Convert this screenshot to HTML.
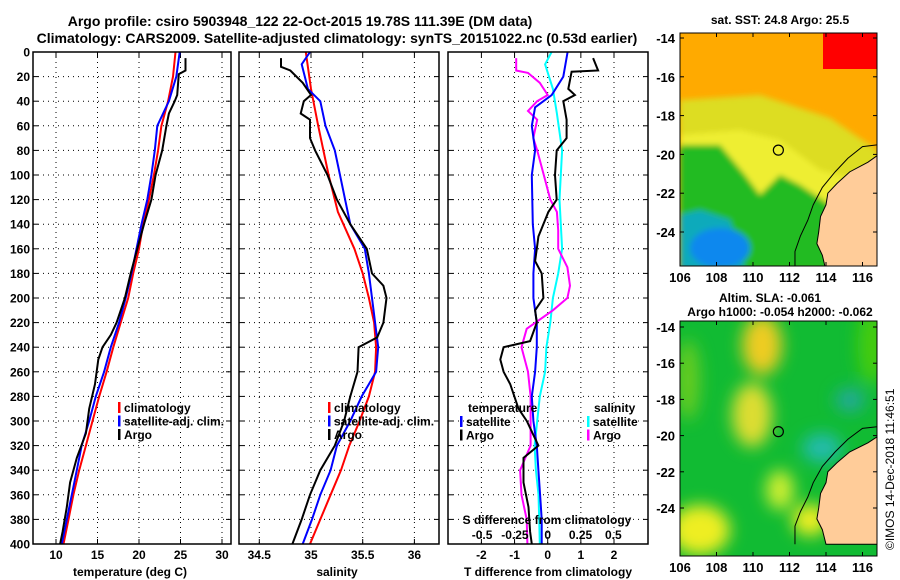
<!DOCTYPE html>
<html><head><meta charset="utf-8"><style>
body{margin:0;background:#fff;}
svg{display:block;font-family:"Liberation Sans",sans-serif;font-weight:bold;}
</style></head><body>
<svg id="s" width="900" height="580" xmlns="http://www.w3.org/2000/svg">
<defs>
<filter id="blur" filterUnits="userSpaceOnUse" x="600" y="250" width="350" height="350"><feGaussianBlur stdDeviation="8"/></filter>
<filter id="blur2" filterUnits="userSpaceOnUse" x="600" y="0" width="350" height="300"><feGaussianBlur stdDeviation="3"/></filter>
<clipPath id="c1"><rect x="680" y="33" width="197" height="233"/></clipPath>
<clipPath id="c2"><rect x="680" y="321" width="197" height="235"/></clipPath>
</defs>
<text x="300" y="26" text-anchor="middle" font-size="14">Argo profile: csiro 5903948_122 22-Oct-2015 19.78S 111.39E (DM data)</text>
<text x="337" y="43" text-anchor="middle" font-size="14">Climatology: CARS2009. Satellite-adjusted climatology: synTS_20151022.nc (0.53d earlier)</text>
<text x="780" y="24" text-anchor="middle" font-size="12">sat. SST: 24.8 Argo: 25.5</text>
<text x="770" y="302" text-anchor="middle" font-size="12">Altim. SLA: -0.061</text>
<text x="780" y="316" text-anchor="middle" font-size="12">Argo h1000: -0.054 h2000: -0.062</text>
<text transform="translate(894,550) rotate(-90)" font-size="12" font-weight="normal">©IMOS 14-Dec-2018 11:46:51</text>
<g id="g"></g>
</svg>
<script>
// depth grids and series
const tDepth=[0,20,40,60,80,100,120,140,160,180,200,220,240,260,280,300,320,340,360,380,400];
const tClim=[24.4,24.1,23.5,22.7,22.3,21.8,21.2,20.5,20.0,19.3,18.7,17.8,16.9,16.1,15.2,14.4,13.6,12.8,12.1,11.5,10.9];
const tSat=[24.9,24.5,23.6,22.2,21.9,21.5,21.0,20.3,19.7,19.1,18.4,17.6,16.6,15.8,14.8,14.0,13.1,12.5,11.9,11.3,10.7];
const argoDepth=[5,15,18,35,40,50,60,80,100,120,140,160,180,200,220,230,240,250,270,290,310,330,350,370,390,400];
const tArgo=[25.6,25.6,24.8,24.6,24.3,23.6,23.3,22.8,22.0,21.5,20.6,19.8,19.0,18.3,17.3,16.6,15.6,15.1,14.7,14.0,13.6,12.5,11.7,11.3,10.8,10.5];
const sClimDepth=[0,30,60,100,130,160,180,200,220,240,260,280,300,320,340,360,380,400];
const sClim=[34.95,35.0,35.07,35.17,35.26,35.42,35.50,35.56,35.61,35.63,35.62,35.56,35.47,35.37,35.29,35.19,35.09,34.99];
const sSatDepth=[0,10,30,40,60,80,100,120,140,160,180,200,220,240,260,270,280,300,320,340,360,380,400];
const sSat=[34.99,34.91,34.97,35.09,35.14,35.23,35.28,35.33,35.38,35.52,35.56,35.59,35.62,35.65,35.63,35.56,35.49,35.38,35.25,35.19,35.09,35.01,34.92];
const sArgoDepth=[5,12,15,25,35,40,50,55,70,80,100,120,140,160,180,190,200,220,232,240,260,280,300,320,340,360,380,400];
const sArgo=[34.71,34.71,34.80,34.92,35.0,34.93,34.90,34.99,34.99,35.04,35.16,35.25,35.38,35.54,35.59,35.70,35.73,35.70,35.64,35.46,35.45,35.38,35.32,35.23,35.09,34.99,34.91,34.82];
const dTSatDepth=[0,20,35,45,60,80,100,140,160,180,200,220,240,260,280,300,320,340,360,380,400];
const dTSat=[0.6,0.47,0.12,-0.38,-0.48,-0.38,-0.48,-0.45,-0.38,-0.43,-0.43,-0.33,-0.33,-0.38,-0.48,-0.43,-0.33,-0.28,-0.23,-0.18,-0.18];
const dTArgoDepth=[5,15,16,30,35,40,55,70,80,100,120,130,150,160,170,180,200,210,220,235,240,250,260,270,290,300,320,330,350,370,390,400];
const dTArgo=[1.37,1.52,0.72,0.62,0.82,0.47,0.57,0.57,0.27,0.22,0.27,0.02,-0.28,-0.33,-0.38,-0.18,-0.13,-0.38,-0.33,-0.53,-1.33,-1.43,-1.33,-1.13,-0.88,-0.63,-0.28,-0.73,-0.73,-0.58,-0.53,-0.48];
const dSSatDepth=[0,10,30,50,80,120,160,180,200,220,240,260,280,300,320,340,360,380,400];
const dSSat=[0.03,-0.02,0.04,0.07,0.11,0.09,0.11,0.08,0.04,0.02,-0.01,-0.02,-0.06,-0.08,-0.1,-0.09,-0.07,-0.065,-0.06];
const dSArgoDepth=[5,15,17,25,35,40,48,55,70,80,100,120,130,145,160,175,190,200,210,225,240,260,280,300,320,340,360,380,400];
const dSArgo=[-0.24,-0.24,-0.15,-0.06,0.0,-0.08,-0.15,-0.08,-0.11,-0.08,-0.03,0.02,0.07,0.08,0.08,0.15,0.17,0.15,0.04,-0.16,-0.2,-0.15,-0.13,-0.13,-0.13,-0.21,-0.2,-0.16,-0.155];
const depthTicks=[0,20,40,60,80,100,120,140,160,180,200,220,240,260,280,300,320,340,360,380,400];
const tTicks=[10,15,20,25,30];
const sTicks=[34.5,35,35.5,36];
const sTickLabels=['34.5','35','35.5','36'];
const dTTicks=[-2,-1,0,1,2];
const dSTicks=[-0.5,-0.25,0,0.25,0.5];
const dSTickLabels=['-0.5','-0.25','0','0.25','0.5'];
const lonTicks=[106,108,110,112,114,116];
const latTicks=[-14,-16,-18,-20,-22,-24];

const NS='http://www.w3.org/2000/svg';
const G=document.getElementById('g');
function mk(tag,attrs,parent){const e=document.createElementNS(NS,tag);for(const k in attrs)e.setAttribute(k,attrs[k]);(parent||G).appendChild(e);return e;}
const Y0=52,Y1=544;
const yD=d=>Y0+(Y1-Y0)*d/400;
function lin(d0,d1,r0,r1){return v=>r0+(v-d0)*(r1-r0)/(d1-d0);}
const xT=lin(10,30,56,222), xS=lin(35,35.5,311,362.7), xDT=lin(0,2,547.7,614), xDS=lin(0,0.5,547.7,613.3);

function panel(name){
  const g=mk('g',{});  
  return g;
}
function grid(g,x0,x1,xs){
  depthTicks.forEach(d=>{const y=yD(d);if(d>0&&d<400){const l=mk('line',{x1:x0,x2:x1,y1:y,y2:y,stroke:'#000','stroke-width':1,'stroke-dasharray':'1,4'},g);}
    mk('line',{x1:x0,x2:x0+5,y1:y,y2:y,stroke:'#000'},g);mk('line',{x1:x1-5,x2:x1,y1:y,y2:y,stroke:'#000'},g);});
  xs.forEach(x=>{const l=mk('line',{x1:x,x2:x,y1:Y0,y2:Y1,stroke:'#000','stroke-dasharray':'1,4'},g);
    mk('line',{x1:x,x2:x,y1:Y1-5,y2:Y1,stroke:'#000'},g);mk('line',{x1:x,x2:x,y1:Y0,y2:Y0+5,stroke:'#000'},g);});
}
function frame(g,x0,x1){const r=mk('rect',{x:x0,y:Y0,width:x1-x0,height:Y1-Y0,fill:'none',stroke:'#000','stroke-width':1.5},g);}
function line(g,ds,vs,xf,color,name,w){
  const p=ds.map((d,i)=>(i?'L':'M')+xf(vs[i]).toFixed(1)+','+yD(d).toFixed(1)).join('');
  const e=mk('path',{d:p,fill:'none',stroke:color,'stroke-width':w||2},g);
  
  
}
function txt(g,x,y,s,opt,name){const t=mk('text',Object.assign({x:x,y:y,'font-size':12},opt||{}),g);t.textContent=s;return t;}
function legend(g,x,y,items){items.forEach((it,i)=>{mk('rect',{x:x,y:y+i*13.5-10,width:2.5,height:11,fill:it[1]},g);txt(g,x+6,y+i*13.5,it[0],{},'legend-entry-'+it[0].replace(/[^a-z]/gi,'').toLowerCase());});}

const gd=panel('depth-axis');
depthTicks.forEach(d=>txt(gd,30,yD(d)+4.5,String(d),{'text-anchor':'end'},'depth-tick-label'));

const p1=panel('temperature-panel');
grid(p1,33,231,tTicks.map(xT));
line(p1,tDepth,tClim,xT,'#f00','temp-climatology-line');
line(p1,tDepth,tSat,xT,'#00f','temp-satellite-line');
line(p1,argoDepth,tArgo,xT,'#000','temp-argo-line');
frame(p1,33,231);
tTicks.forEach(v=>txt(p1,xT(v),559,String(v),{'text-anchor':'middle'},'temp-tick-label'));
txt(p1,130,576,'temperature (deg C)',{'text-anchor':'middle'},'temp-axis-title');
legend(p1,118,412,[['climatology','#f00'],['satellite-adj. clim.','#00f'],['Argo','#000']]);

const p2=panel('salinity-panel');
grid(p2,239,439,sTicks.map(xS));
line(p2,sClimDepth,sClim,xS,'#f00','sal-climatology-line');
line(p2,sSatDepth,sSat,xS,'#00f','sal-satellite-line');
line(p2,sArgoDepth,sArgo,xS,'#000','sal-argo-line');
frame(p2,239,439);
sTicks.forEach((v,i)=>txt(p2,xS(v),559,sTickLabels[i],{'text-anchor':'middle'},'sal-tick-label'));
txt(p2,337,576,'salinity',{'text-anchor':'middle'},'sal-axis-title');
legend(p2,328,412,[['climatology','#f00'],['satellite-adj. clim.','#00f'],['Argo','#000']]);

const p3=panel('difference-panel');
grid(p3,448,648,dTTicks.map(xDT));
line(p3,dSSatDepth,dSSat,xDS,'#0ff','sdiff-satellite-line');
line(p3,dSArgoDepth,dSArgo,xDS,'#f0f','sdiff-argo-line');
line(p3,dTSatDepth,dTSat,xDT,'#00f','tdiff-satellite-line');
line(p3,dTArgoDepth,dTArgo,xDT,'#000','tdiff-argo-line');
frame(p3,448,648);
dTTicks.forEach(v=>txt(p3,xDT(v),559,String(v),{'text-anchor':'middle'},'tdiff-tick-label'));
txt(p3,548,576,'T difference from climatology',{'text-anchor':'middle'},'tdiff-axis-title');
txt(p3,547,524,'S difference from climatology',{'text-anchor':'middle'},'sdiff-axis-title');
dSTicks.forEach((v,i)=>txt(p3,xDS(v),539,dSTickLabels[i],{'text-anchor':'middle'},'sdiff-tick-label'));
txt(p3,468,412,'temperature',{},'legend-temperature-header');
txt(p3,594,412,'salinity',{},'legend-salinity-header');
legend(p3,460,426,[['satellite','#00f'],['Argo','#000']]);
legend(p3,587,426,[['satellite','#0ff'],['Argo','#f0f']]);

const lonX=lin(106,116,680,862.5);
const lat1=lin(-14,-24,38,232), lat2=lin(-14,-24,327,508);
function mapAxes(g,latY,top,bot){
  mk('rect',{x:680,y:top,width:197,height:bot-top,fill:'none',stroke:'#000'},g);
  lonTicks.forEach(v=>{mk('line',{x1:lonX(v),x2:lonX(v),y1:bot,y2:bot-4,stroke:'#000'},g);mk('line',{x1:lonX(v),x2:lonX(v),y1:top,y2:top+4,stroke:'#000'},g);txt(g,lonX(v),bot+16,String(v),{'text-anchor':'middle','font-size':13},'lon-tick-label');});
  latTicks.forEach(v=>{const y=latY(v);mk('line',{x1:680,x2:684,y1:y,y2:y,stroke:'#000'},g);mk('line',{x1:873,x2:877,y1:y,y2:y,stroke:'#000'},g);txt(g,675,y+5,String(v),{'text-anchor':'end','font-size':13},'lat-tick-label');});
}
function coast(g,latY){
  const pts=[[116.9,-20.0],[116.3,-20.4],[115.3,-20.9],[114.6,-21.5],[114.1,-22.0],[114.0,-22.6],[113.7,-23.2],[113.6,-24.0],[113.5,-24.6],[113.8,-25.2],[114.0,-26.0],[116.9,-26.0]];
  const d=pts.map((p,i)=>(i?'L':'M')+lonX(p[0])+','+latY(p[1])).join('')+'Z';
  const l=mk('path',{d:d,fill:'#fc9',stroke:'#000','stroke-width':1},g);
  const sh=[[116.9,-19.5],[116.0,-19.6],[115.2,-20.2],[114.5,-20.9],[113.8,-21.7],[113.3,-22.6],[113.0,-23.4],[112.6,-24.2],[112.3,-25.0],[112.3,-26.0]];
  mk('path',{d:sh.map((p,i)=>(i?'L':'M')+lonX(p[0])+','+latY(p[1])).join(''),fill:'none',stroke:'#000','stroke-width':1},g);
  const c=mk('circle',{cx:lonX(111.39),cy:latY(-19.78),r:5,fill:'none',stroke:'#000','stroke-width':1.2},g);
}
const m1=panel('sst-map');
const m1c=mk('g',{'clip-path':'url(#c1)'},m1);
mk('rect',{x:680,y:33,width:197,height:233,fill:'#fa0'},m1c);
mk('rect',{x:823,y:33,width:54,height:36,fill:'#f00'},m1c);
const m1f=mk('g',{filter:'url(#blur2)'},m1c);
mk('path',{d:'M680,100 L760,95 L830,118 L877,150 L877,270 L680,270Z',fill:'#dd2'},m1f);
mk('path',{d:'M680,135 L740,130 L780,140 L820,170 L850,178 L877,168 L877,270 L680,270Z',fill:'#ee3'},m1f);
mk('path',{d:'M680,145 L720,145 L745,175 L760,195 L780,175 L800,185 L830,205 L877,205 L877,270 L680,270Z',fill:'#2b2'},m1f);
mk('path',{d:'M680,215 L700,210 L730,220 L745,270 L680,270Z',fill:'#1ab'},m1f);
mk('ellipse',{cx:720,cy:248,rx:30,ry:20,fill:'#18e'},m1f);
coast(m1c,lat1);
mapAxes(m1,lat1,33,266);

const m2=panel('sla-map');
const m2c=mk('g',{'clip-path':'url(#c2)'},m2);
mk('rect',{x:680,y:321,width:197,height:235,fill:'#1b3'},m2c);
const m2f=mk('g',{filter:'url(#blur)'},m2c);
const blobs=[[762,345,20,30,'#ec2'],[752,415,20,32,'#dd3'],[700,530,30,25,'#ee2'],[780,490,14,20,'#ce3'],[810,520,18,16,'#ee2'],[688,380,12,40,'#6c2'],[872,345,14,40,'#4c1'],[822,448,20,15,'#2ba'],[850,400,15,12,'#2a9']];
blobs.forEach(b=>mk('ellipse',{cx:b[0],cy:b[1],rx:b[2],ry:b[3],fill:b[4]},m2f));
coast(m2c,lat2);
mapAxes(m2,lat2,321,556);
</script>
</body></html>
